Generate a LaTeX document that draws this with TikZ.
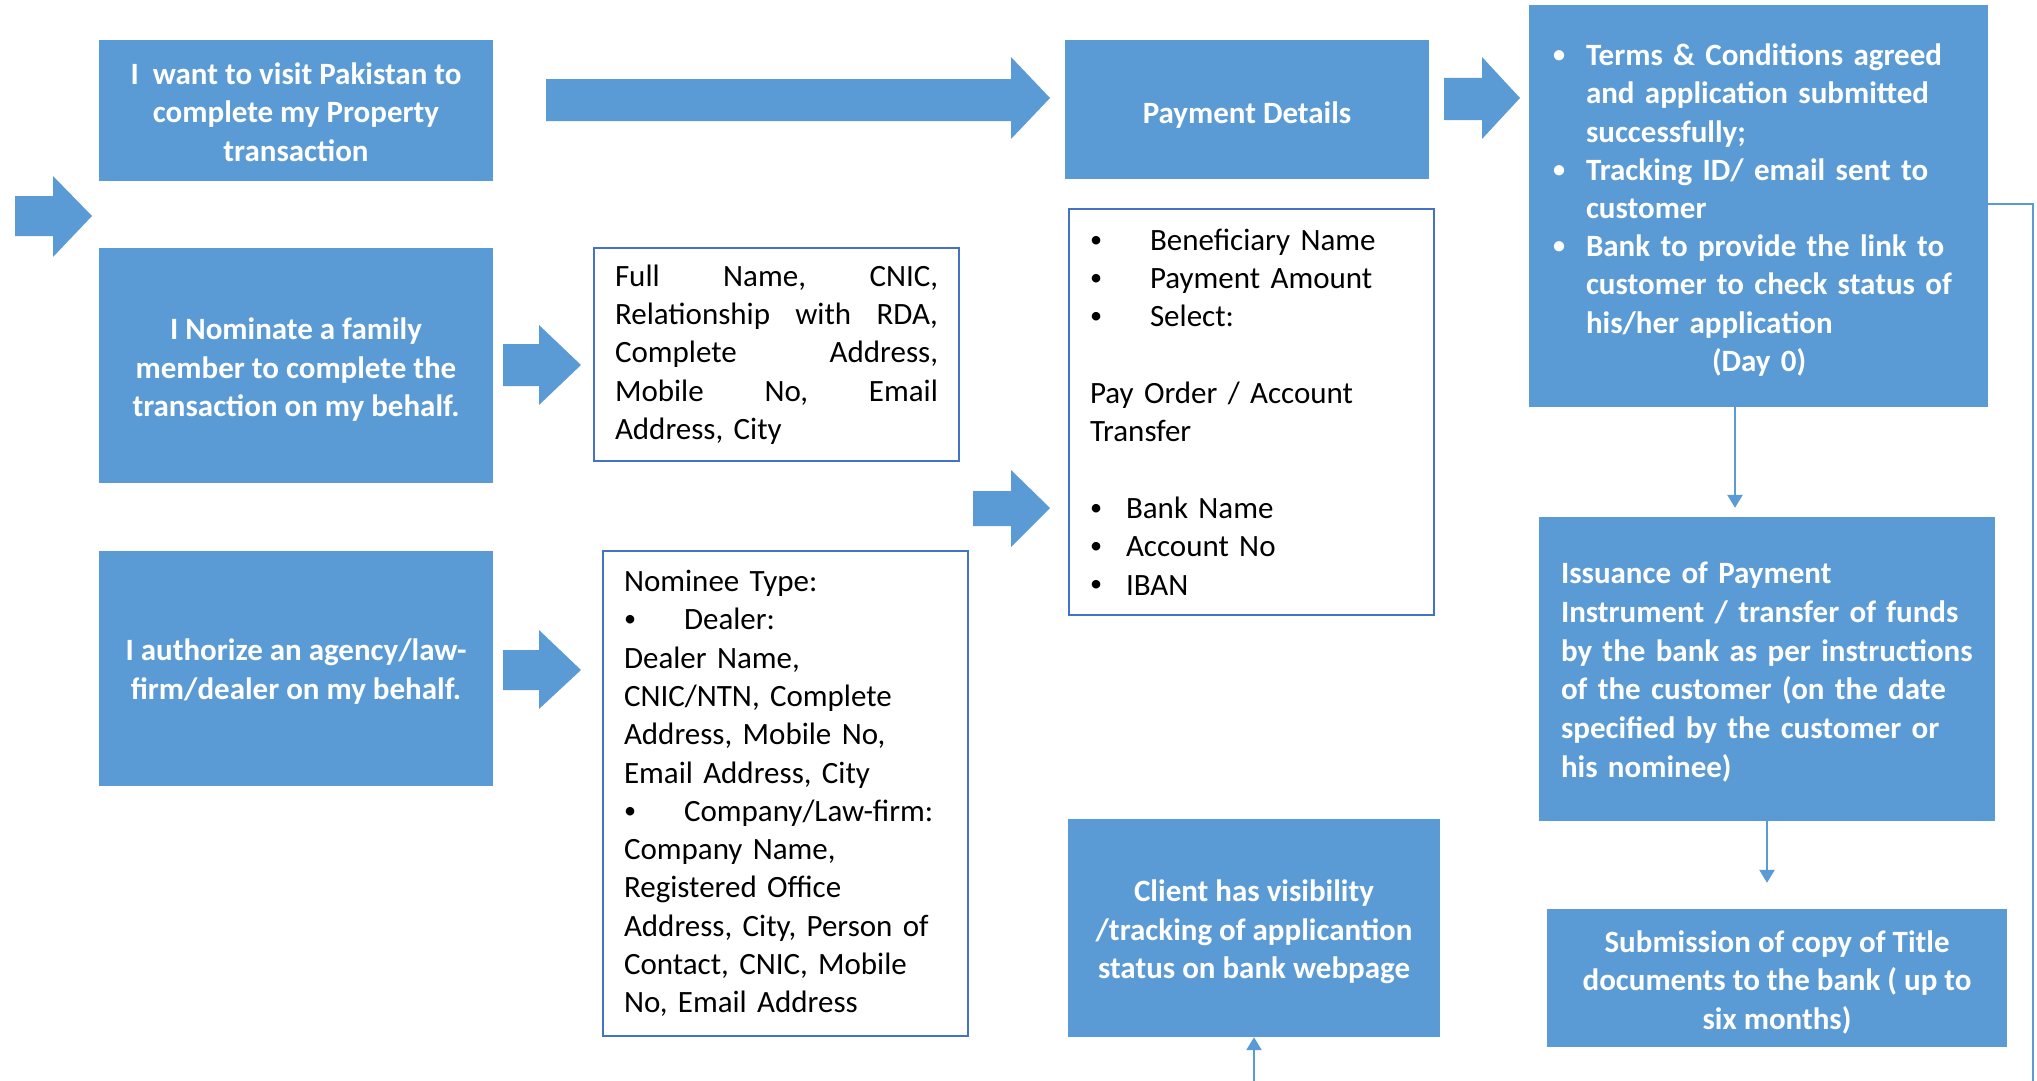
\documentclass[tikz,border=0pt]{standalone}
\usepackage{fontspec}
\setmainfont{Carlito}
\usetikzlibrary{arrows.meta}
\definecolor{boxblue}{HTML}{5B9BD5}
\definecolor{edgeblue}{HTML}{4472C4}
\newcommand\bul{\raisebox{0.1em}{\scalebox{0.78}{•}}}
\newcommand\firstln[1]{\rule{0pt}{#1pt}}
\begin{document}
\begin{tikzpicture}[x=1pt,y=-1pt,
 bluebox/.style={fill=boxblue, draw=none, text=white, font=\bfseries\fontsize{31}{38.4}\selectfont, align=center, inner sep=0pt},
 listbox/.style={draw=edgeblue, line width=1.5pt, fill=white, text=black, font=\fontsize{31}{38.3}\selectfont, align=left, inner ysep=0pt, inner xsep=21pt},
 blockarrow/.style={fill=boxblue, draw=none},
 conn/.style={draw=boxblue, line width=2.5pt, -{Triangle[width=15pt,length=13pt]}},
 plainline/.style={draw=boxblue, line width=2.5pt}]
\useasboundingbox (0,0) rectangle (2037,1081);
\fill[white] (0,0) rectangle (2037,1081);

% blue boxes
\node[bluebox, minimum width=394pt, minimum height=141pt] (want) at (296,110.5) {\firstln{25}I\ \ want to visit Pakistan to\\complete my Property\\transaction};
\node[bluebox, minimum width=394pt, minimum height=235pt] (nominate) at (296,365.5) {\firstln{30}I Nominate a family\\member to complete the\\transaction on my behalf.};
\node[bluebox, minimum width=394pt, minimum height=235pt] (authorize) at (296,668.5) {\firstln{27.5}I authorize an agency/law-\\firm/dealer on my behalf.};
\node[bluebox, minimum width=364pt, minimum height=139pt] (paydet) at (1247,109.5) {\firstln{32.5}Payment Details};
\node[bluebox, font=\bfseries\fontsize{31}{38.2}\selectfont, text width=411pt, inner xsep=24pt, minimum height=402pt, align=left] (terms) at (1758.5,206) {%
\firstln{30}\makebox[33pt][l]{\bul}Terms \& Conditions agreed\\
\hspace*{33pt}and application submitted\\
\hspace*{33pt}successfully;\\
\makebox[33pt][l]{\bul}Tracking ID/ email sent to\\
\hspace*{33pt}customer\\
\makebox[33pt][l]{\bul}Bank to provide the link to\\
\hspace*{33pt}customer to check status of\\
\hspace*{33pt}his/her application\\
\hspace*{159pt}(Day 0)};
\node[bluebox, font=\bfseries\fontsize{31}{38.7}\selectfont, text width=412pt, inner xsep=22pt, minimum height=304pt, align=left] (iss) at (1767,669) {\firstln{27.5}Issuance of Payment\\Instrument / transfer of funds\\by the bank as per instructions\\of the customer (on the date\\specified by the customer or\\his nominee)};
\node[bluebox, minimum width=460pt, minimum height=138pt] (sub) at (1777,978) {\firstln{30}Submission of copy of Title\\documents to the bank ( up to\\six months)};
\node[bluebox, minimum width=372pt, minimum height=218pt] (client) at (1254,928) {\firstln{30}Client has visibility\\/tracking of applicantion\\status on bank webpage};

% white list boxes
\node[listbox, text width=323pt, minimum height=213pt] (full) at (776.5,354.5) {%
\makebox[323pt][l]{Full\hfill Name,\hfill CNIC,}\\
\makebox[323pt][l]{Relationship\hfill with\hfill RDA,}\\
\makebox[323pt][l]{Complete\hfill Address,}\\
\makebox[323pt][l]{Mobile\hfill No,\hfill Email}\\
Address, City};
\node[listbox, text width=323pt, minimum height=485pt] (nom) at (785.5,793.5) {%
Nominee Type:\\
\makebox[60pt][l]{\bul}Dealer:\\
Dealer Name,\\
CNIC/NTN, Complete\\
Address, Mobile No,\\
Email Address, City\\
\makebox[60pt][l]{\bul}Company/Law-firm:\\
Company Name,\\
Registered Office\\
Address, City, Person of\\
Contact, CNIC, Mobile\\
No, Email Address};
\node[listbox, text width=323pt, minimum height=406pt] (plist) at (1251.5,412) {%
\makebox[60pt][l]{\bul}Beneficiary Name\\
\makebox[60pt][l]{\bul}Payment Amount\\
\makebox[60pt][l]{\bul}Select:\\
\mbox{}\\
Pay Order / Account\\
Transfer\\
\mbox{}\\
\makebox[36pt][l]{\bul}Bank Name\\
\makebox[36pt][l]{\bul}Account No\\
\makebox[36pt][l]{\bul}IBAN};

% block arrows
\fill[blockarrow] (15,196) -- (53,196) -- (53,176) -- (92,216) -- (53,257) -- (53,236) -- (15,236) -- cycle;
\fill[blockarrow] (546,79) -- (1011,79) -- (1011,57) -- (1050,98) -- (1011,139) -- (1011,121) -- (546,121) -- cycle;
\fill[blockarrow] (1444,78) -- (1482,78) -- (1482,57) -- (1520,98) -- (1482,139) -- (1482,120) -- (1444,120) -- cycle;
\fill[blockarrow] (503,344) -- (539,344) -- (539,325) -- (581,365) -- (539,405) -- (539,386) -- (503,386) -- cycle;
\fill[blockarrow] (503,650) -- (539,650) -- (539,630) -- (581,670) -- (539,709) -- (539,690) -- (503,690) -- cycle;
\fill[blockarrow] (973,491) -- (1011,491) -- (1011,470) -- (1050,508) -- (1011,547) -- (1011,526) -- (973,526) -- cycle;

% connectors
\coordinate (rb) at (2033,1081);
\draw[plainline] ([yshift=2pt]terms.east) -| (rb);
\coordinate (cb) at (1254,1081);
\draw[conn] (cb) -- (client.south);
\coordinate (t1) at ([xshift=-23.5pt]terms.south);
\draw[conn, shorten >=9pt] (t1) -- (t1 |- iss.north);
\draw[conn, shorten >=26pt] (iss.south) -- (iss.south |- sub.north);
\end{tikzpicture}
\end{document}
